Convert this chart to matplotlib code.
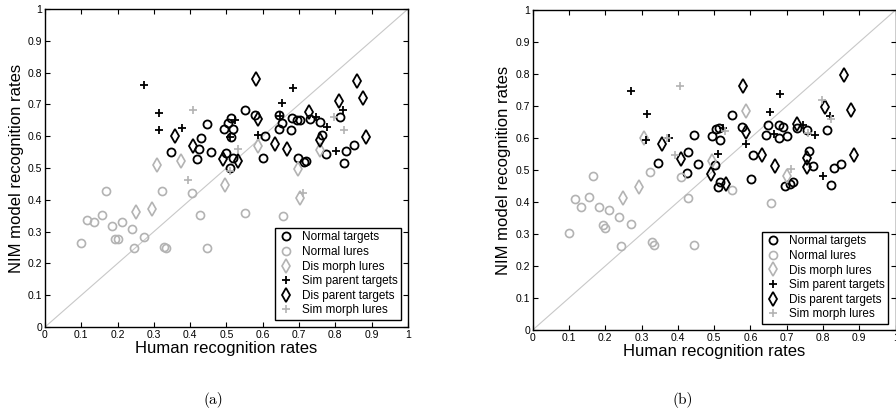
import matplotlib.pyplot as plt

plt.rcParams['font.family'] = ['Liberation Sans', 'DejaVu Sans']

# series names, in legend order
labels = ['Normal targets', 'Normal lures', 'Dis morph lures',
          'Sim parent targets', 'Dis parent targets', 'Sim morph lures']

# ---- panel (a) ----
a_normal_targets_x = [0.346, 0.418, 0.425, 0.429, 0.445, 0.457, 0.494, 0.500, 0.505, 0.512, 0.512, 0.518,
                      0.518, 0.511, 0.551, 0.579, 0.606, 0.601, 0.645, 0.645, 0.654, 0.680, 0.679, 0.693,
                      0.702, 0.696, 0.713, 0.718, 0.729, 0.757, 0.762, 0.774, 0.812, 0.825, 0.830, 0.852]
a_normal_targets_y = [0.550, 0.528, 0.561, 0.593, 0.637, 0.551, 0.624, 0.547, 0.640, 0.657, 0.598, 0.624,
                      0.530, 0.500, 0.682, 0.667, 0.600, 0.530, 0.668, 0.622, 0.641, 0.657, 0.620, 0.650,
                      0.651, 0.530, 0.518, 0.522, 0.653, 0.645, 0.603, 0.543, 0.660, 0.517, 0.554, 0.571]
a_normal_lures_x = [0.100, 0.117, 0.134, 0.156, 0.167, 0.184, 0.194, 0.201, 0.213, 0.239,
                    0.245, 0.273, 0.323, 0.328, 0.334, 0.406, 0.428, 0.445, 0.551, 0.657]
a_normal_lures_y = [0.265, 0.336, 0.331, 0.352, 0.427, 0.318, 0.277, 0.277, 0.330, 0.308,
                    0.248, 0.284, 0.429, 0.252, 0.248, 0.422, 0.351, 0.248, 0.357, 0.348]
a_dis_morph_x = [0.250, 0.294, 0.309, 0.374, 0.495, 0.588, 0.698, 0.702, 0.757]
a_dis_morph_y = [0.362, 0.370, 0.508, 0.523, 0.448, 0.568, 0.498, 0.407, 0.557]
a_sim_parent_x = [0.272, 0.315, 0.314, 0.378, 0.510, 0.524, 0.587, 0.648, 0.654, 0.682, 0.748, 0.777, 0.801, 0.821]
a_sim_parent_y = [0.760, 0.672, 0.620, 0.627, 0.597, 0.651, 0.604, 0.665, 0.703, 0.753, 0.659, 0.630, 0.554, 0.683]
a_dis_parent_x = [0.357, 0.408, 0.490, 0.533, 0.582, 0.588, 0.633, 0.668, 0.727, 0.757, 0.809, 0.859, 0.877, 0.885]
a_dis_parent_y = [0.600, 0.568, 0.529, 0.521, 0.780, 0.654, 0.576, 0.560, 0.676, 0.588, 0.711, 0.775, 0.719, 0.599]
a_sim_morph_x = [0.395, 0.407, 0.510, 0.531, 0.712, 0.797, 0.825]
a_sim_morph_y = [0.462, 0.682, 0.492, 0.559, 0.420, 0.659, 0.619]

# ---- panel (b) ----
b_normal_targets_x = [0.345, 0.424, 0.428, 0.445, 0.456, 0.494, 0.502, 0.506, 0.512, 0.517, 0.511, 0.517,
                      0.550, 0.578, 0.606, 0.601, 0.644, 0.648, 0.678, 0.679, 0.690, 0.701, 0.695, 0.710,
                      0.717, 0.729, 0.756, 0.761, 0.772, 0.811, 0.823, 0.829, 0.850]
b_normal_targets_y = [0.521, 0.491, 0.556, 0.610, 0.520, 0.605, 0.516, 0.627, 0.632, 0.593, 0.446, 0.462,
                      0.671, 0.634, 0.547, 0.473, 0.610, 0.640, 0.641, 0.600, 0.635, 0.605, 0.450, 0.457,
                      0.462, 0.632, 0.624, 0.560, 0.512, 0.626, 0.454, 0.507, 0.520]
b_normal_lures_x = [0.099, 0.117, 0.133, 0.155, 0.167, 0.183, 0.193, 0.199, 0.211, 0.239,
                    0.244, 0.272, 0.323, 0.328, 0.333, 0.410, 0.428, 0.445, 0.550, 0.656]
b_normal_lures_y = [0.304, 0.408, 0.385, 0.417, 0.481, 0.385, 0.328, 0.318, 0.375, 0.354,
                    0.264, 0.330, 0.494, 0.276, 0.266, 0.478, 0.411, 0.267, 0.437, 0.397]
b_dis_morph_x = [0.250, 0.293, 0.306, 0.493, 0.587, 0.702]
b_dis_morph_y = [0.414, 0.447, 0.601, 0.528, 0.683, 0.480]
b_sim_parent_x = [0.272, 0.314, 0.312, 0.376, 0.511, 0.525, 0.587, 0.653, 0.665, 0.681, 0.745, 0.777, 0.800, 0.818]
b_sim_parent_y = [0.746, 0.674, 0.593, 0.600, 0.549, 0.632, 0.580, 0.682, 0.611, 0.736, 0.640, 0.609, 0.481, 0.670]
b_dis_parent_x = [0.356, 0.409, 0.490, 0.532, 0.580, 0.587, 0.633, 0.667, 0.727, 0.756, 0.756, 0.805, 0.858, 0.876, 0.885]
b_dis_parent_y = [0.580, 0.534, 0.486, 0.457, 0.762, 0.619, 0.548, 0.514, 0.643, 0.536, 0.508, 0.697, 0.796, 0.686, 0.548]
b_sim_morph_x = [0.371, 0.392, 0.405, 0.529, 0.713, 0.758, 0.796, 0.821]
b_sim_morph_y = [0.599, 0.547, 0.763, 0.622, 0.503, 0.616, 0.720, 0.658]

ticks = [0, 0.1, 0.2, 0.3, 0.4, 0.5, 0.6, 0.7, 0.8, 0.9, 1]
tick_labels = ['0', '0.1', '0.2', '0.3', '0.4', '0.5', '0.6', '0.7', '0.8', '0.9', '1']

GRAY = '#b3b3b3'
# marker, colour, size, edge width for each series
styles = [('o', 'black', 5.8, 1.3), ('o', GRAY, 5.8, 1.2), ('d', GRAY, 6.8, 1.2),
          ('+', 'black', 5.5, 1.3), ('d', 'black', 6.8, 1.3), ('+', GRAY, 5.5, 1.2)]


def draw_panel(ax, series, legend_anchor):
    ax.plot([0, 1], [0, 1], color='#c8c8c8', lw=0.8, zorder=1)
    handles = []
    for (xs, ys), (m, c, ms, mew), lab in zip(series, styles, labels):
        h, = ax.plot(xs, ys, linestyle='none', marker=m, ms=ms, mew=mew,
                     mfc='none', mec=c, label=lab, zorder=2)
        handles.append(h)
    ax.set_xlim(0, 1)
    ax.set_ylim(0, 1)
    ax.set_xticks(ticks)
    ax.set_yticks(ticks)
    ax.set_xticklabels(tick_labels)
    ax.set_yticklabels(tick_labels)
    ax.tick_params(direction='in', top=True, right=True, labelsize=7.5,
                   length=3.5, width=0.8, pad=2)
    for s in ax.spines.values():
        s.set_linewidth(1.0)
    ax.set_xlabel('Human recognition rates', fontsize=12, labelpad=1)
    ax.set_ylabel('NIM model recognition rates', fontsize=12, labelpad=3)
    leg = ax.legend(handles=handles, loc='lower right', bbox_to_anchor=legend_anchor,
                    fontsize=8.5, handlelength=1.3, handletextpad=0.7, labelspacing=0.22,
                    borderpad=0.3, borderaxespad=0, fancybox=False, framealpha=1,
                    edgecolor='black')
    leg.get_frame().set_linewidth(1.0)


fig = plt.figure(figsize=(8.96, 4.15), dpi=100)
ax_a = fig.add_axes([0.0502, 0.2120, 0.4051, 0.7663])
ax_b = fig.add_axes([0.5945, 0.2048, 0.4051, 0.7711])

draw_panel(ax_a, [(a_normal_targets_x, a_normal_targets_y), (a_normal_lures_x, a_normal_lures_y),
                  (a_dis_morph_x, a_dis_morph_y), (a_sim_parent_x, a_sim_parent_y),
                  (a_dis_parent_x, a_dis_parent_y), (a_sim_morph_x, a_sim_morph_y)],
           (0.981, 0.022))
draw_panel(ax_b, [(b_normal_targets_x, b_normal_targets_y), (b_normal_lures_x, b_normal_lures_y),
                  (b_dis_morph_x, b_dis_morph_y), (b_sim_parent_x, b_sim_parent_y),
                  (b_dis_parent_x, b_dis_parent_y), (b_sim_morph_x, b_sim_morph_y)],
           (0.979, 0.019))

fig.text(213 / 896, 1 - 400 / 415, '(a)', family='cmr10', fontsize=11, ha='center', va='center')
fig.text(683 / 896, 1 - 400 / 415, '(b)', family='cmr10', fontsize=11, ha='center', va='center')

fig.savefig('out.png', dpi=100)
